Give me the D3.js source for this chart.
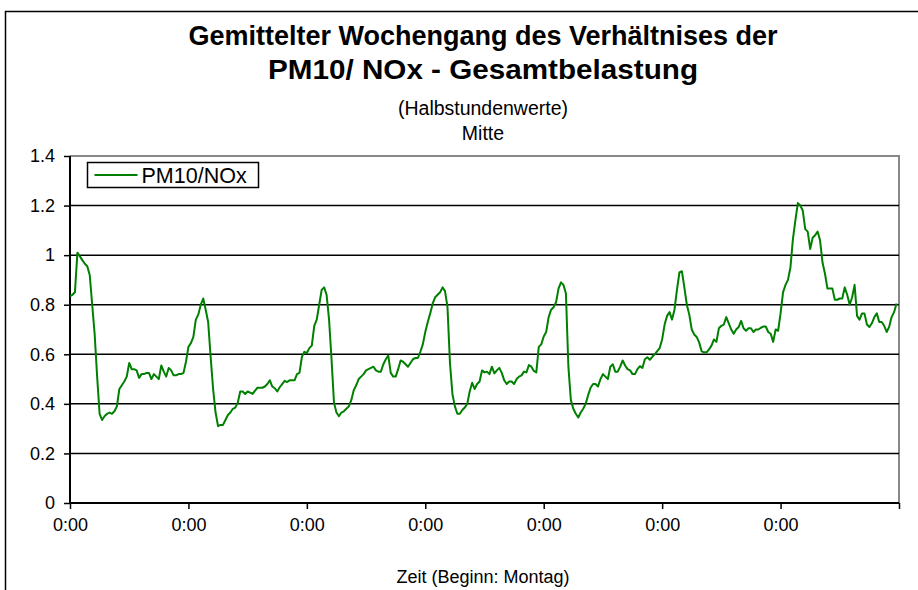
<!DOCTYPE html>
<html>
<head>
<meta charset="utf-8">
<script src="https://cdn.jsdelivr.net/npm/d3@7"></script>
<style>
  body { margin: 0; background: #fff; }
  text { font-family: "Liberation Sans", Arial, sans-serif; fill: #000; }
</style>
</head>
<body>
<div class="chart-container"></div>
<script>
// half-hour means, Monday 0:00 .. Sunday 23:30 (PM10/NOx)
const day1 = [0.835, 0.84, 0.85, 1.01, 0.995, 0.98, 0.965, 0.955, 0.92, 0.80, 0.68, 0.51,
  0.36, 0.335, 0.35, 0.36, 0.365, 0.36, 0.37, 0.39, 0.46, 0.475, 0.49, 0.51,
  0.565, 0.54, 0.54, 0.535, 0.505, 0.52, 0.52, 0.525, 0.525, 0.50, 0.52, 0.51,
  0.50, 0.555, 0.53, 0.51, 0.545, 0.535, 0.515, 0.515, 0.52, 0.52, 0.525, 0.57];
const day2 = [0.63, 0.645, 0.67, 0.74, 0.76, 0.80, 0.825, 0.78, 0.73, 0.59, 0.46, 0.365,
  0.31, 0.315, 0.315, 0.335, 0.355, 0.365, 0.38, 0.385, 0.405, 0.45, 0.45, 0.44,
  0.45, 0.445, 0.44, 0.453, 0.465, 0.465, 0.465, 0.47, 0.48, 0.495, 0.47, 0.463,
  0.45, 0.467, 0.48, 0.493, 0.488, 0.495, 0.495, 0.495, 0.52, 0.525, 0.59, 0.61];
const day3 = [0.605, 0.625, 0.635, 0.715, 0.74, 0.80, 0.86, 0.87, 0.84, 0.74, 0.58, 0.405,
  0.365, 0.35, 0.365, 0.37, 0.38, 0.39, 0.415, 0.455, 0.475, 0.50, 0.51, 0.52,
  0.535, 0.54, 0.545, 0.55, 0.535, 0.53, 0.53, 0.56, 0.58, 0.595, 0.525, 0.51,
  0.51, 0.54, 0.575, 0.57, 0.56, 0.55, 0.565, 0.58, 0.585, 0.585, 0.61, 0.64];
const day4 = [0.69, 0.73, 0.765, 0.805, 0.83, 0.84, 0.85, 0.87, 0.855, 0.79, 0.565, 0.44,
  0.39, 0.36, 0.36, 0.375, 0.385, 0.40, 0.45, 0.485, 0.46, 0.48, 0.49, 0.535,
  0.527, 0.53, 0.52, 0.55, 0.523, 0.535, 0.545, 0.525, 0.495, 0.48, 0.49, 0.49,
  0.48, 0.50, 0.51, 0.515, 0.53, 0.527, 0.557, 0.55, 0.533, 0.527, 0.63, 0.64];
const day5 = [0.672, 0.69, 0.75, 0.78, 0.79, 0.81, 0.865, 0.89, 0.88, 0.845, 0.55, 0.415,
  0.38, 0.36, 0.345, 0.365, 0.38, 0.40, 0.435, 0.465, 0.48, 0.48, 0.47, 0.50,
  0.52, 0.51, 0.50, 0.55, 0.56, 0.53, 0.53, 0.55, 0.575, 0.555, 0.54, 0.535,
  0.52, 0.52, 0.54, 0.552, 0.545, 0.58, 0.588, 0.578, 0.59, 0.60, 0.613, 0.625];
const day6 = [0.66, 0.72, 0.755, 0.77, 0.74, 0.78, 0.86, 0.93, 0.935, 0.87, 0.80, 0.76,
  0.70, 0.68, 0.67, 0.648, 0.612, 0.608, 0.608, 0.62, 0.635, 0.66, 0.65, 0.705,
  0.715, 0.72, 0.75, 0.725, 0.70, 0.683, 0.70, 0.71, 0.735, 0.705, 0.695, 0.705,
  0.705, 0.69, 0.70, 0.70, 0.707, 0.712, 0.712, 0.69, 0.683, 0.65, 0.70, 0.695];
const day7 = [0.765, 0.85, 0.88, 0.90, 0.95, 1.065, 1.14, 1.21, 1.20, 1.18, 1.105, 1.095,
  1.025, 1.07, 1.08, 1.095, 1.06, 0.97, 0.925, 0.865, 0.865, 0.865, 0.82, 0.82,
  0.825, 0.825, 0.87, 0.84, 0.80, 0.83, 0.88, 0.755, 0.74, 0.765, 0.765, 0.72,
  0.71, 0.725, 0.75, 0.765, 0.73, 0.73, 0.715, 0.69, 0.71, 0.75, 0.77, 0.805];

const ratio = [].concat(day1, day2, day3, day4, day5, day6, day7);
const dayTicks = [0, 48, 96, 144, 192, 240, 288, 336];
const dayLabels = ["0:00", "0:00", "0:00", "0:00", "0:00", "0:00", "0:00", ""];
const yTicks = [0, 0.2, 0.4, 0.6, 0.8, 1, 1.2, 1.4];
const seriesName = "PM10/NOx";

const width = 918;
const height = 590;
const margin = { left: 70, right: 19, top: 156, bottom: 87 };

const svg = d3.select(".chart-container").append("svg")
  .attr("width", width)
  .attr("height", height);

// outer chart frame (runs off the picture to the right and bottom)
svg.append("rect")
  .attr("x", 5.5).attr("y", 11.5)
  .attr("width", 940).attr("height", 620)
  .attr("fill", "none").attr("stroke", "#000").attr("stroke-width", 1.5);

const x = d3.scaleLinear().domain([0, 336]).range([margin.left, width - margin.right]);
const y = d3.scaleLinear().domain([0, 1.4]).range([height - margin.bottom, margin.top]);

// titles (widths pinned to the original layout)
const titles = [
  { t: "Gemittelter Wochengang des Verhältnises der", y: 36, size: 27, w: "bold", len: 589 },
  { t: "PM10/ NOx - Gesamtbelastung", y: 70, size: 27, w: "bold", len: 430 },
  { t: "(Halbstundenwerte)", y: 108, size: 19.5, w: "normal", len: 170 },
  { t: "Mitte", y: 133, size: 19.5, w: "normal", len: null }
];
svg.selectAll(".title")
  .data(titles)
  .enter()
  .append("text")
  .attr("class", "title")
  .attr("x", 483)
  .attr("y", (d) => d.y)
  .attr("dy", "0.35em")
  .attr("text-anchor", "middle")
  .attr("textLength", (d) => d.len)
  .attr("lengthAdjust", "spacingAndGlyphs")
  .style("font-size", (d) => d.size + "px")
  .style("font-weight", (d) => d.w)
  .text((d) => d.t);

// plot area border (grey top / right)
svg.append("path")
  .attr("d", `M${x(0)},${y(1.4)}H${x(336)}V${y(0)}`)
  .attr("fill", "none").attr("stroke", "#888").attr("stroke-width", 2);

// gridlines
svg.selectAll(".grid")
  .data(yTicks.filter((v) => v > 0 && v < 1.4))
  .enter()
  .append("line")
  .attr("class", "grid")
  .attr("x1", x(0)).attr("x2", x(336))
  .attr("y1", (d) => y(d)).attr("y2", (d) => y(d))
  .attr("stroke", "#000").attr("stroke-width", 1.5);

// axes
const yAxis = d3.axisLeft(y).tickValues(yTicks).tickSize(6).tickPadding(9)
  .tickFormat((d) => d3.format("")(+d.toFixed(1)));
const xAxis = d3.axisBottom(x).tickValues(dayTicks).tickSize(6).tickPadding(9)
  .tickFormat((d, i) => dayLabels[i]);

const gy = svg.append("g").attr("transform", `translate(${x(0)},0)`).call(yAxis);
const gx = svg.append("g").attr("transform", `translate(0,${y(0)})`).call(xAxis);
[gx, gy].forEach((g) => {
  g.select(".domain").attr("stroke", "#000").attr("stroke-width", 2);
  g.selectAll(".tick line").attr("stroke", "#000").attr("stroke-width", 1.5);
  g.selectAll(".tick text").style("font-size", "18px").attr("fill", "#000");
});
gx.select(".domain").attr("d", `M${x(0)},0H${x(336)}`);
gy.select(".domain").attr("d", `M0,${y(0)}V${y(1.4)}`);

// series
const line = d3.line().x((d, i) => x(i)).y((d) => y(d));
svg.append("path")
  .datum(ratio)
  .attr("d", line)
  .attr("fill", "none")
  .attr("stroke", "#008000")
  .attr("stroke-width", 2)
  .attr("stroke-linejoin", "round");

// x axis title
svg.append("text")
  .attr("x", 483).attr("y", 577).attr("dy", "0.35em")
  .attr("text-anchor", "middle")
  .style("font-size", "18px")
  .text("Zeit (Beginn: Montag)");

// legend
const legend = svg.append("g").attr("transform", "translate(87.5,162.5)");
legend.append("rect")
  .attr("width", 171).attr("height", 25)
  .attr("fill", "#fff").attr("stroke", "#000").attr("stroke-width", 1.5);
legend.append("line")
  .attr("x1", 7).attr("x2", 50).attr("y1", 12.5).attr("y2", 12.5)
  .attr("stroke", "#008000").attr("stroke-width", 2);
legend.append("text")
  .attr("x", 54).attr("y", 12.5).attr("dy", "0.35em")
  .style("font-size", "21.5px")
  .text(seriesName);
</script>
</body>
</html>
